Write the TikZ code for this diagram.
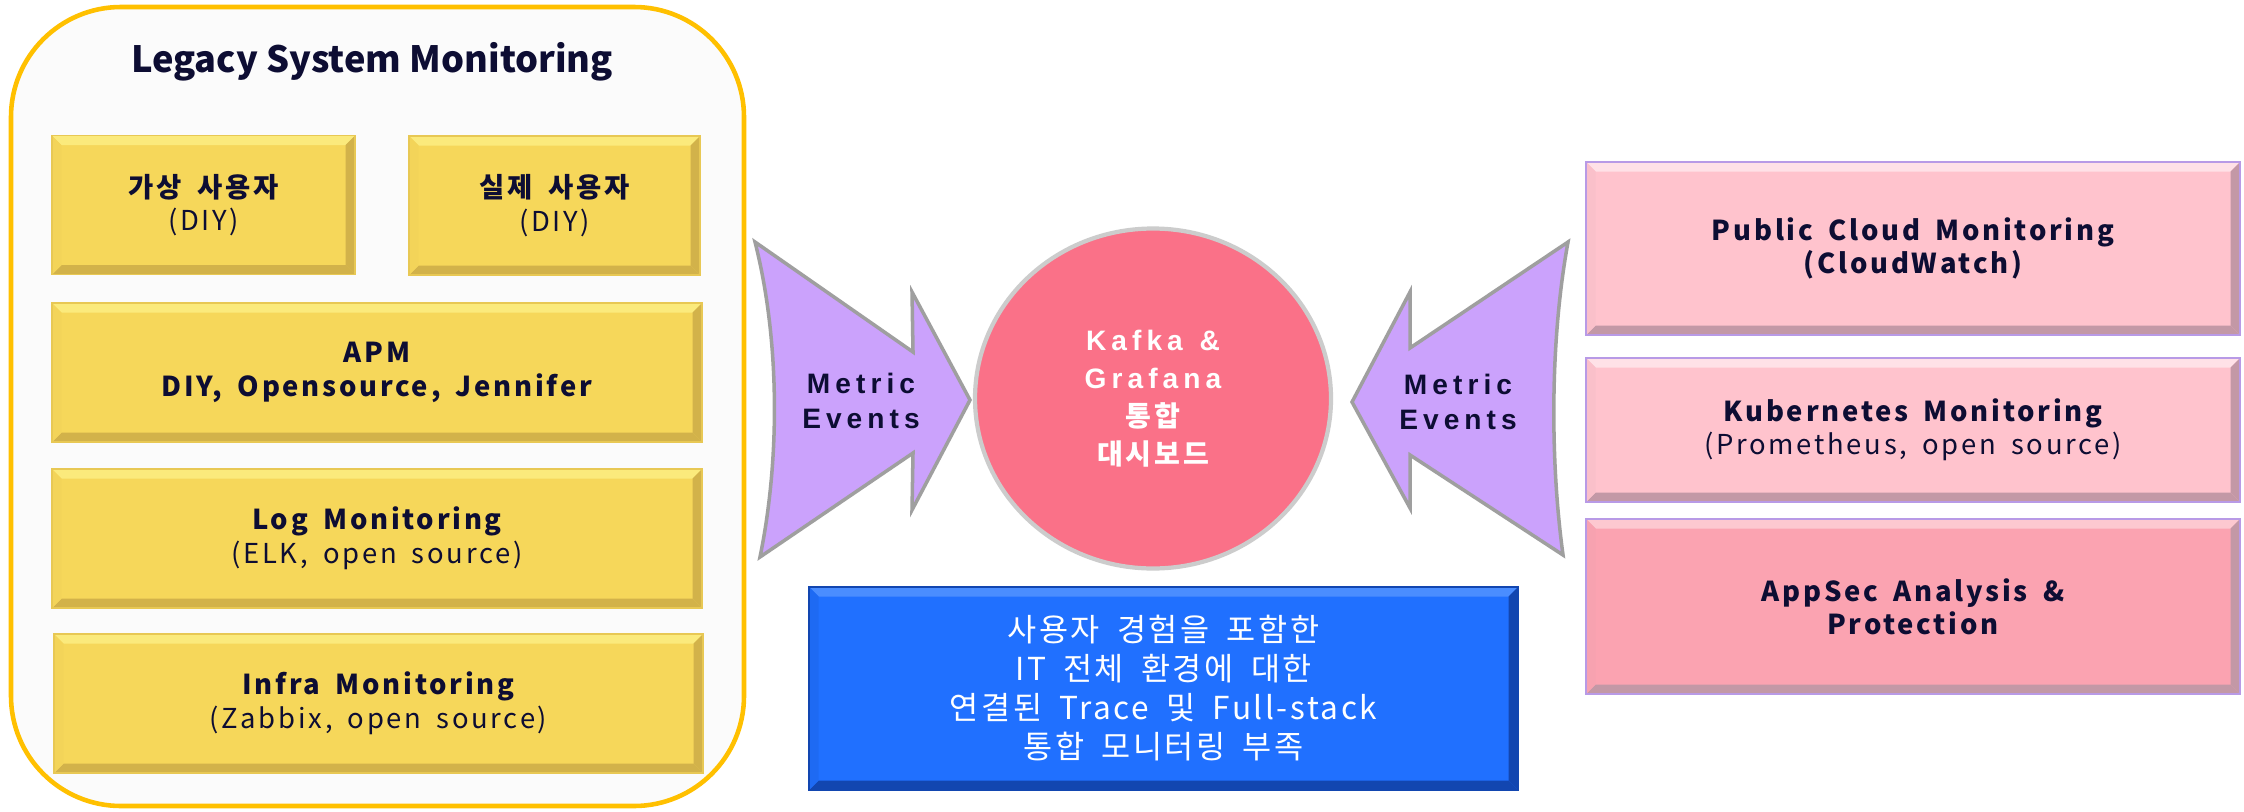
\documentclass[tikz,border=0pt]{standalone}
\usepackage{fontspec}
\setmainfont{Noto Sans CJK KR}
\newfontfamily\spacedkr[LetterSpace=10,WordSpace=1.7]{Noto Sans CJK KR}
\newfontfamily\bluekr[LetterSpace=8,WordSpace=1.8]{Noto Sans CJK KR}
\newfontfamily\spacedar[LetterSpace=18,WordSpace=1.3]{Liberation Sans}
\usepackage{tikz}
\usetikzlibrary{calc,shapes.geometric}
\definecolor{ink}{HTML}{0D0D33}
\definecolor{goldline}{HTML}{FFC000}
\definecolor{legacyfill}{HTML}{FBFBFB}
\definecolor{ybase}{HTML}{F6D75A}
\definecolor{ytop}{HTML}{FBEA7C}
\definecolor{yside}{HTML}{D2B24A}
\definecolor{pbase}{HTML}{FFC3CD}
\definecolor{pdeep}{HTML}{FBA3B1}
\definecolor{ptop}{HTML}{FFE1E7}
\definecolor{pside}{HTML}{C398A6}
\definecolor{pline}{HTML}{B89AE6}
\definecolor{lav}{HTML}{CBA2FC}
\definecolor{hubred}{HTML}{FA7188}
\definecolor{bluebox}{HTML}{2070FF}
\definecolor{bluetop}{HTML}{4A8DFF}
\definecolor{blueside}{HTML}{1246B0}
\newcommand{\bevelw}{0.095}
\tikzset{
  bevel/.style n args={3}{path picture={
    \coordinate (TR) at (path picture bounding box.north east);
    \coordinate (BL) at (path picture bounding box.south west);
    \coordinate (TL) at (BL |- TR);
    \coordinate (BR) at (TR |- BL);
    \fill[#1] (TL) -- (TR) -- ($(TR)+(-\bevelw,-\bevelw)$) -- ($(TL)+(\bevelw,-\bevelw)$) -- cycle;
    \fill[#2] (BL) -- (BR) -- ($(BR)+(-\bevelw,\bevelw)$) -- ($(BL)+(\bevelw,\bevelw)$) -- cycle;
    \fill[#2] (TR) -- (BR) -- ($(BR)+(-\bevelw,\bevelw)$) -- ($(TR)+(-\bevelw,-\bevelw)$) -- cycle;
    \fill[#3] (TL) -- (BL) -- ($(BL)+(\bevelw,\bevelw)$) -- ($(TL)+(\bevelw,-\bevelw)$) -- cycle;
  }},
  ybox/.style={rectangle, fill=ybase, draw=yside!40!ybase, line width=0.4pt, text=ink, align=center,
    inner sep=0pt, minimum height=1.39cm, font=\spacedkr\fontsize{7.8}{9.6}\selectfont,
    bevel={ytop}{yside}{ybase!92!yside}},
  pbox/.style={rectangle, fill=pbase, draw=pline, line width=0.6pt, text=ink, align=center,
    inner sep=0pt, minimum width=6.54cm, font=\spacedkr\fontsize{7.8}{9.3}\selectfont,
    bevel={ptop}{pside}{pbase!92!pside}},
  metricarrow/.style={fill=lav, draw=gray!75, line width=1pt, line join=miter},
  metrictext/.style={text=ink, align=center, font=\spacedar\bfseries\fontsize{8}{10.2}\selectfont}
}
\begin{document}
\begin{tikzpicture}
\useasboundingbox (0,0) rectangle (22.44,-8.11);
\fill[white] (0,0) rectangle (22.44,-8.11);

\node[draw=goldline, line width=1.3pt, fill=legacyfill, rounded corners=1.1cm,
  minimum width=7.33cm, minimum height=7.99cm] (legacy) at (3.775,-4.065) {};
\node[text=ink, font=\bfseries\fontsize{10.3}{12}\selectfont] (title) at (3.72,-0.62) {Legacy System Monitoring};

\node[ybox, minimum width=3.03cm] (vuser) at (2.035,-2.05) {{\bfseries 가상 사용자}\\(DIY)};
\node[ybox, minimum width=2.91cm] (ruser) at (5.545,-2.055) {{\bfseries 실제 사용자}\\(DIY)};
\node[ybox, minimum width=6.5cm] (apm) at (3.77,-3.725) {\bfseries APM\\\bfseries DIY, Opensource, Jennifer};
\node[ybox, minimum width=6.5cm] (logmon) at (3.77,-5.385) {{\bfseries Log Monitoring}\\(ELK, open source)};
\node[ybox, minimum width=6.49cm] (inframon) at (3.785,-7.035) {{\bfseries Infra Monitoring}\\(Zabbix, open source)};

\draw[metricarrow] (7.55,-2.42) -- (9.13,-3.52) -- (9.12,-2.92) -- (9.70,-4.00) -- (9.12,-5.10)
  -- (9.13,-4.53) -- (7.60,-5.57) .. controls (7.80,-4.60) and (7.80,-3.40) .. (7.55,-2.42) -- cycle;
\node[metrictext] (lmetric) at (8.61,-4.01) {Metric\\Events};

\node[ellipse, fill=hubred, draw=gray!40, line width=1.2pt, minimum width=3.56cm, minimum height=3.4cm,
  text=white, align=center, font=\spacedar\bfseries\fontsize{8}{10.8}\selectfont] (hub) at (11.53,-3.985)
  {Kafka \&\\Grafana\\{\spacedkr 통합}\\{\spacedkr 대시보드}};

\draw[metricarrow] (15.68,-2.42) -- (14.10,-3.48) -- (14.10,-2.92) -- (13.52,-4.02) -- (14.10,-5.08)
  -- (14.10,-4.55) -- (15.63,-5.55) .. controls (15.50,-4.60) and (15.50,-3.40) .. (15.68,-2.42) -- cycle;
\node[metrictext] (rmetric) at (14.58,-4.02) {Metric\\Events};

\node[rectangle, fill=bluebox, draw=blueside, line width=0.8pt, minimum width=7.09cm, minimum height=2.03cm,
  inner sep=0pt, text=white, align=center, font=\bluekr\fontsize{9}{11.1}\selectfont,
  bevel={bluetop}{blueside}{bluebox!85!blueside}] (gap) at (11.635,-6.885)
  {사용자 경험을 포함한\\IT 전체 환경에 대한\\연결된 Trace 및 Full-stack\\통합 모니터링 부족};

\node[pbox, minimum height=1.73cm] (cloudmon) at (19.13,-2.485) {\bfseries Public Cloud Monitoring\\\bfseries (CloudWatch)};
\node[pbox, minimum height=1.44cm] (k8smon) at (19.13,-4.30) {{\bfseries Kubernetes Monitoring}\\(Prometheus, open source)};
\node[pbox, fill=pdeep, minimum height=1.75cm, bevel={pdeep!60!white}{pside}{pdeep!92!pside}] (appsec) at (19.13,-6.065)
  {\bfseries AppSec Analysis \&\\\bfseries Protection};
\end{tikzpicture}
\end{document}
